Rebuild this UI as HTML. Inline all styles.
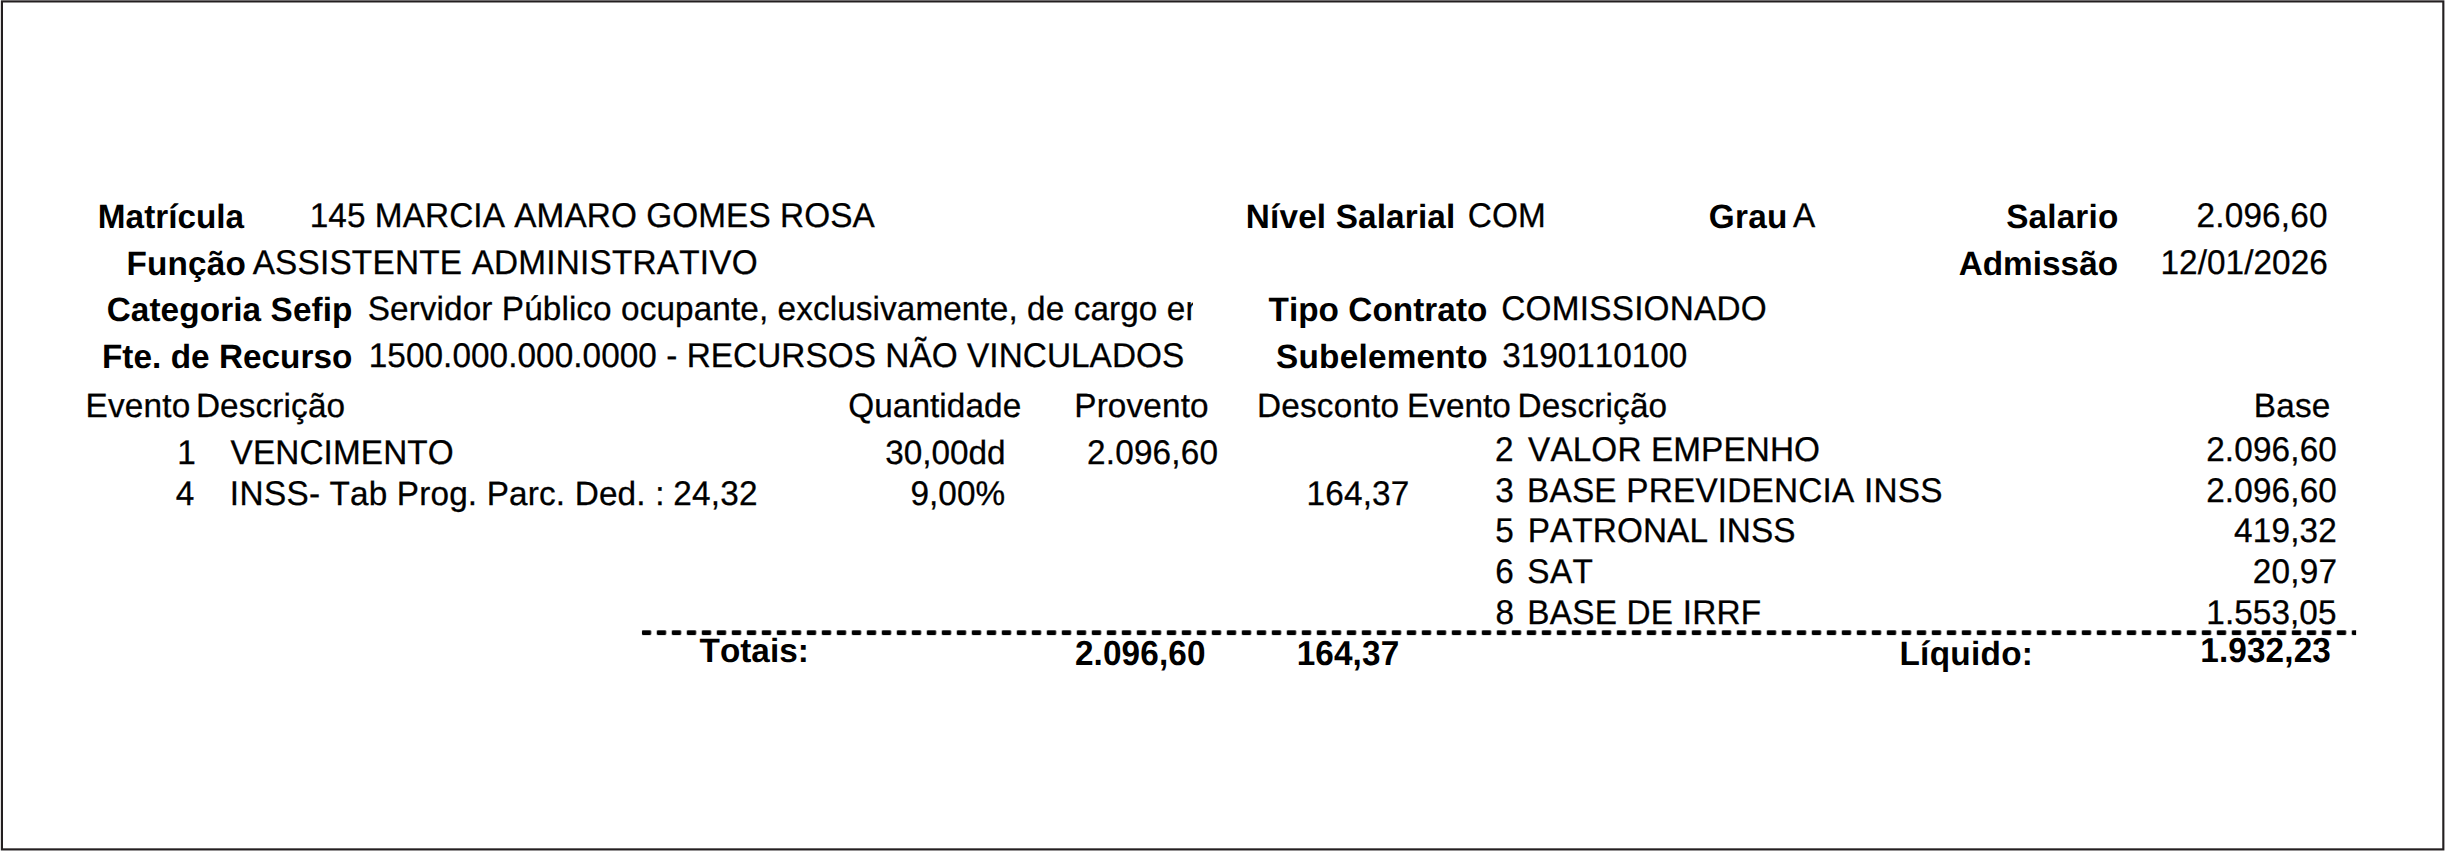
<!DOCTYPE html>
<html lang="pt-BR">
<head>
<meta charset="utf-8">
<title>Folha de Pagamento</title>
<style>
html,body{margin:0;padding:0;background:#fff;}
body{width:2445px;height:851px;position:relative;overflow:hidden;font-family:"Liberation Sans",Arial,Helvetica,sans-serif;font-size:33.333px;line-height:40px;color:#000;}
.t{position:absolute;white-space:pre;margin:0;padding:0;font-weight:400;font-kerning:none;font-variant-ligatures:none;text-rendering:geometricPrecision;}
.b{font-weight:700;}
.r{-webkit-text-stroke:0.28px #000;}
.v{transform:scaleY(1.01);transform-origin:0 30.12px;}
.u{transform:scaleY(1.030);transform-origin:0 30.12px;}
.b.u{transform:scaleY(1.041);}
.clip{position:absolute;overflow:hidden;height:46px;}
.clip .t{left:0;top:0;}
#frame{position:absolute;left:0;top:0;}
</style>
</head>
<body>
<svg id="frame" width="2445" height="851" viewBox="0 0 2445 851">
<defs>
<pattern id="dash" x="641.75" y="630.3" width="15" height="4.8" patternUnits="userSpaceOnUse"><rect x="0" y="0" width="9.4" height="4.8" rx="1.1" ry="1.1" fill="#000"/></pattern>
</defs>
<rect x="1.93" y="1.42" width="2441.4" height="847.98" fill="none" stroke="#231f20" stroke-width="2.15"/>
<rect x="641.75" y="630.3" width="1714.35" height="4.8" fill="url(#dash)"/>
</svg>
<span id="matricula" class="t b v" style="left:97.85px;top:197.88px;letter-spacing:-0.002px">Matrícula</span>
<span id="nome" class="t r u" style="left:309.66px;top:196.88px;letter-spacing:0.080px">145 MARCIA AMARO GOMES ROSA</span>
<span id="nivel" class="t b v" style="left:1245.85px;top:197.88px;letter-spacing:0.146px">Nível Salarial</span>
<span id="com" class="t r u" style="left:1467.67px;top:196.88px;letter-spacing:0.229px">COM</span>
<span id="grau" class="t b v" style="left:1708.64px;top:197.88px;letter-spacing:0.339px">Grau</span>
<span id="a" class="t r u" style="left:1792.91px;top:196.88px">A</span>
<span id="salario" class="t b v" style="left:2006.18px;top:197.88px;letter-spacing:0.158px">Salario</span>
<span id="salv" class="t r u" style="left:2196.56px;top:196.88px;letter-spacing:0.166px">2.096,60</span>
<span id="funcao" class="t b v" style="left:126.46px;top:244.88px;letter-spacing:0.159px">Função</span>
<span id="funcv" class="t r u" style="left:252.67px;top:243.88px;letter-spacing:0.208px">ASSISTENTE ADMINISTRATIVO</span>
<span id="adm" class="t b v" style="left:1958.63px;top:244.88px;letter-spacing:0.025px">Admissão</span>
<span id="admv" class="t r u" style="left:2160.53px;top:243.88px;letter-spacing:0.050px">12/01/2026</span>
<span id="cat" class="t b v" style="left:106.64px;top:290.88px;letter-spacing:0.097px">Categoria Sefip</span>
<div class="clip" style="left:367.74px;top:289.88px;width:825.06px"><span id="catv" class="t r v" style="letter-spacing:0.083px">Servidor Público ocupante, exclusivamente, de cargo em</span></div>
<span id="tipo" class="t b v" style="left:1268.52px;top:290.88px;letter-spacing:0.037px">Tipo Contrato</span>
<span id="tipov" class="t r u" style="left:1501.32px;top:289.88px;letter-spacing:0.224px">COMISSIONADO</span>
<span id="fte" class="t b v" style="left:101.96px;top:337.88px;letter-spacing:0.033px">Fte. de Recurso</span>
<span id="ftev" class="t r u" style="left:368.71px;top:336.88px;letter-spacing:0.055px">1500.000.000.0000 - RECURSOS NÃO VINCULADOS</span>
<span id="sub" class="t b v" style="left:1276.01px;top:337.88px;letter-spacing:0.228px">Subelemento</span>
<span id="subv" class="t r u" style="left:1502.32px;top:336.88px;letter-spacing:-0.034px">3190110100</span>
<span id="h_ev1" class="t r v" style="left:85.60px;top:386.88px;letter-spacing:0.175px">Evento</span>
<span id="h_de1" class="t r v" style="left:195.93px;top:386.88px;letter-spacing:0.125px">Descrição</span>
<span id="h_qt" class="t r v" style="left:848.15px;top:386.88px;letter-spacing:0.081px">Quantidade</span>
<span id="h_pr" class="t r v" style="left:1074.29px;top:386.88px;letter-spacing:0.128px">Provento</span>
<span id="h_ds" class="t r v" style="left:1256.93px;top:386.88px;letter-spacing:0.205px">Desconto</span>
<span id="h_ev2" class="t r v" style="left:1407.04px;top:386.88px;letter-spacing:-0.005px">Evento</span>
<span id="h_de2" class="t r v" style="left:1517.60px;top:386.88px;letter-spacing:0.174px">Descrição</span>
<span id="h_ba" class="t r v" style="left:2253.84px;top:386.88px;letter-spacing:0.205px">Base</span>
<span id="r1_n" class="t r u" style="left:177.28px;top:433.88px">1</span>
<span id="r1_d" class="t r u" style="left:230.59px;top:433.88px;letter-spacing:0.105px">VENCIMENTO</span>
<span id="r1_q" class="t r v" style="left:885.13px;top:433.88px;letter-spacing:-0.013px">30,00dd</span>
<span id="r1_p" class="t r u" style="left:1087.09px;top:433.88px;letter-spacing:0.167px">2.096,60</span>
<span id="r2_n" class="t r u" style="left:175.85px;top:474.88px">4</span>
<span id="r2_d" class="t r u" style="left:229.79px;top:474.88px;letter-spacing:0.387px">INSS-</span>
<span id="r2_d2" class="t r v" style="left:329.50px;top:474.88px;letter-spacing:0.158px">Tab Prog. Parc. Ded. :</span>
<span id="r2_d3" class="t r u" style="left:673.15px;top:474.88px;letter-spacing:0.241px">24,32</span>
<span id="r2_q" class="t r u" style="left:910.58px;top:474.88px;letter-spacing:-0.003px">9,00%</span>
<span id="r2_ds" class="t r u" style="left:1306.52px;top:474.88px;letter-spacing:0.182px">164,37</span>
<span id="b1_n" class="t r u" style="left:1495.11px;top:430.88px">2</span>
<span id="b1_d" class="t r u" style="left:1528.09px;top:430.88px;letter-spacing:0.095px">VALOR EMPENHO</span>
<span id="b1_v" class="t r u" style="left:2206.17px;top:430.88px;letter-spacing:0.139px">2.096,60</span>
<span id="b2_n" class="t r u" style="left:1495.37px;top:471.88px">3</span>
<span id="b2_d" class="t r u" style="left:1527.04px;top:471.88px;letter-spacing:0.210px">BASE PREVIDENCIA INSS</span>
<span id="b2_v" class="t r u" style="left:2206.17px;top:471.88px;letter-spacing:0.139px">2.096,60</span>
<span id="b3_n" class="t r u" style="left:1495.18px;top:511.88px">5</span>
<span id="b3_d" class="t r u" style="left:1527.66px;top:511.88px;letter-spacing:0.097px">PATRONAL INSS</span>
<span id="b3_v" class="t r u" style="left:2233.94px;top:511.88px;letter-spacing:0.200px">419,32</span>
<span id="b4_n" class="t r u" style="left:1495.13px;top:552.88px">6</span>
<span id="b4_d" class="t r u" style="left:1527.34px;top:552.88px;letter-spacing:0.386px">SAT</span>
<span id="b4_v" class="t r u" style="left:2252.86px;top:552.88px;letter-spacing:0.200px">20,97</span>
<span id="b5_n" class="t r u" style="left:1495.42px;top:593.88px">8</span>
<span id="b5_d" class="t r u" style="left:1527.33px;top:593.88px;letter-spacing:0.205px">BASE DE IRRF</span>
<span id="b5_v" class="t r u" style="left:2206.34px;top:593.88px;letter-spacing:0.061px">1.553,05</span>
<span id="tot" class="t b v" style="left:699.52px;top:631.88px;letter-spacing:0.008px">Totais:</span>
<span id="tot_p" class="t b u" style="left:1074.88px;top:634.88px;letter-spacing:0.129px">2.096,60</span>
<span id="tot_d" class="t b u" style="left:1296.67px;top:634.88px;letter-spacing:0.120px">164,37</span>
<span id="liq" class="t b v" style="left:1899.42px;top:634.88px;letter-spacing:0.308px">Líquido:</span>
<span id="liq_v" class="t b u" style="left:2200.26px;top:631.88px;letter-spacing:0.120px">1.932,23</span>
</body>
</html>
